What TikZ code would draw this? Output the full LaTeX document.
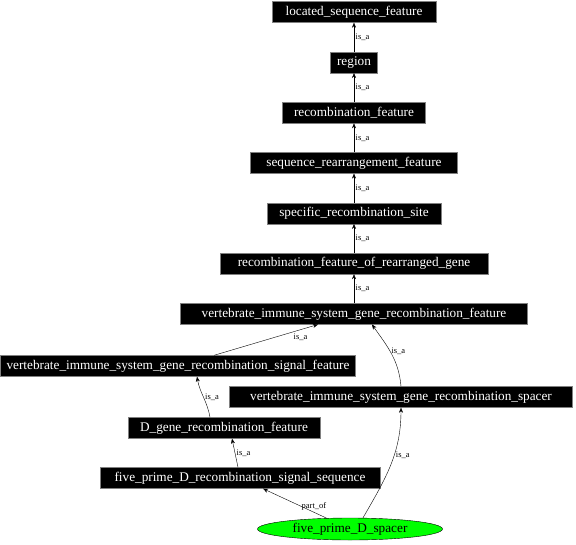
\documentclass[tikz,border=0pt]{standalone}
\usepackage{fontspec}
\setmainfont{Liberation Serif}
\usetikzlibrary{arrows.meta,positioning,shapes.geometric}
\tikzset{>={Stealth[length=5bp,width=4bp]}}
\tikzset{
  term/.style={rectangle,draw=gray,fill=black,text=white,font=\fontsize{13.3}{15}\selectfont,inner xsep=6bp,inner ysep=0pt,minimum height=21bp,minimum width=#1},
  term/.default=0bp,
  focus/.style={ellipse,draw=black,fill=green,font=\fontsize{13.3}{15}\selectfont,minimum width=185bp,minimum height=22bp,inner sep=0pt},
  rel/.style={font=\fontsize{8.5}{9}\selectfont,inner sep=1.5bp}
}

\begin{document}
\begin{tikzpicture}[x=1bp,y=-1bp,node distance=50.3bp]
  \useasboundingbox[fill=white] (0,0) rectangle (576,545);
  \node[term=164bp] (Located) at (354,12) {located\_sequence\_feature};
  \node[term=47bp,below of=Located] (Region) {region};
  \node[term=143bp,below of=Region] (Recomb) {recombination\_feature};
  \node[term=207bp,below of=Recomb] (Rearr) {sequence\_rearrangement\_feature};
  \node[term=174bp,below of=Rearr] (SiteRS) {specific\_recombination\_site};
  \node[term=268bp,below of=SiteRS] (RearrGene) {recombination\_feature\_of\_rearranged\_gene};
  \node[term=347bp,below of=RearrGene] (VISFeature) {vertebrate\_immune\_system\_gene\_recombination\_feature};
  \node[term=352bp] (VISSignal) at (178,366) {vertebrate\_immune\_system\_gene\_recombination\_signal\_feature};
  \node[term=343bp] (VISSpacer) at (401,397) {vertebrate\_immune\_system\_gene\_recombination\_spacer};
  \node[term=192bp] (DGene) at (224,428) {D\_gene\_recombination\_feature};
  \node[term=280bp] (FivePrimeRSS) at (240,478) {five\_prime\_D\_recombination\_signal\_sequence};
  \node[focus] (Spacer) at (350,529) {five\_prime\_D\_spacer};
  \draw[->] (Region) -- node[rel,right]{is\_a} (Located);
  \draw[->] (Recomb) -- node[rel,right]{is\_a} (Region);
  \draw[->] (Rearr) -- node[rel,right]{is\_a} (Recomb);
  \draw[->] (SiteRS) -- node[rel,right]{is\_a} (Rearr);
  \draw[->] (RearrGene) -- node[rel,right]{is\_a} (SiteRS);
  \draw[->] (VISFeature) -- node[rel,right]{is\_a} (RearrGene);
  \draw[->] (VISSignal) -- node[rel,pos=0.75,below right]{is\_a} (VISFeature);
  \draw[->] (VISSpacer.north) to[out=95,in=-55] node[rel,pos=0.55,right]{is\_a} ([xshift=18bp]VISFeature.south);
  \draw[->] ([xshift=-14bp]DGene.north) to[out=100,in=-80] node[rel,right]{is\_a} ([xshift=19bp]VISSignal.south);
  \draw[->] ([xshift=-2bp]FivePrimeRSS.north) -- node[rel,right]{is\_a} ([xshift=8bp]DGene.south);
  \draw[->] (Spacer) -- node[rel,pos=0.2,above]{part\_of} (FivePrimeRSS);
  \draw[->] ([xshift=13bp]Spacer.north) to[out=60,in=-90] node[rel,pos=0.6,right]{is\_a} (VISSpacer.south);
\end{tikzpicture}
\end{document}
